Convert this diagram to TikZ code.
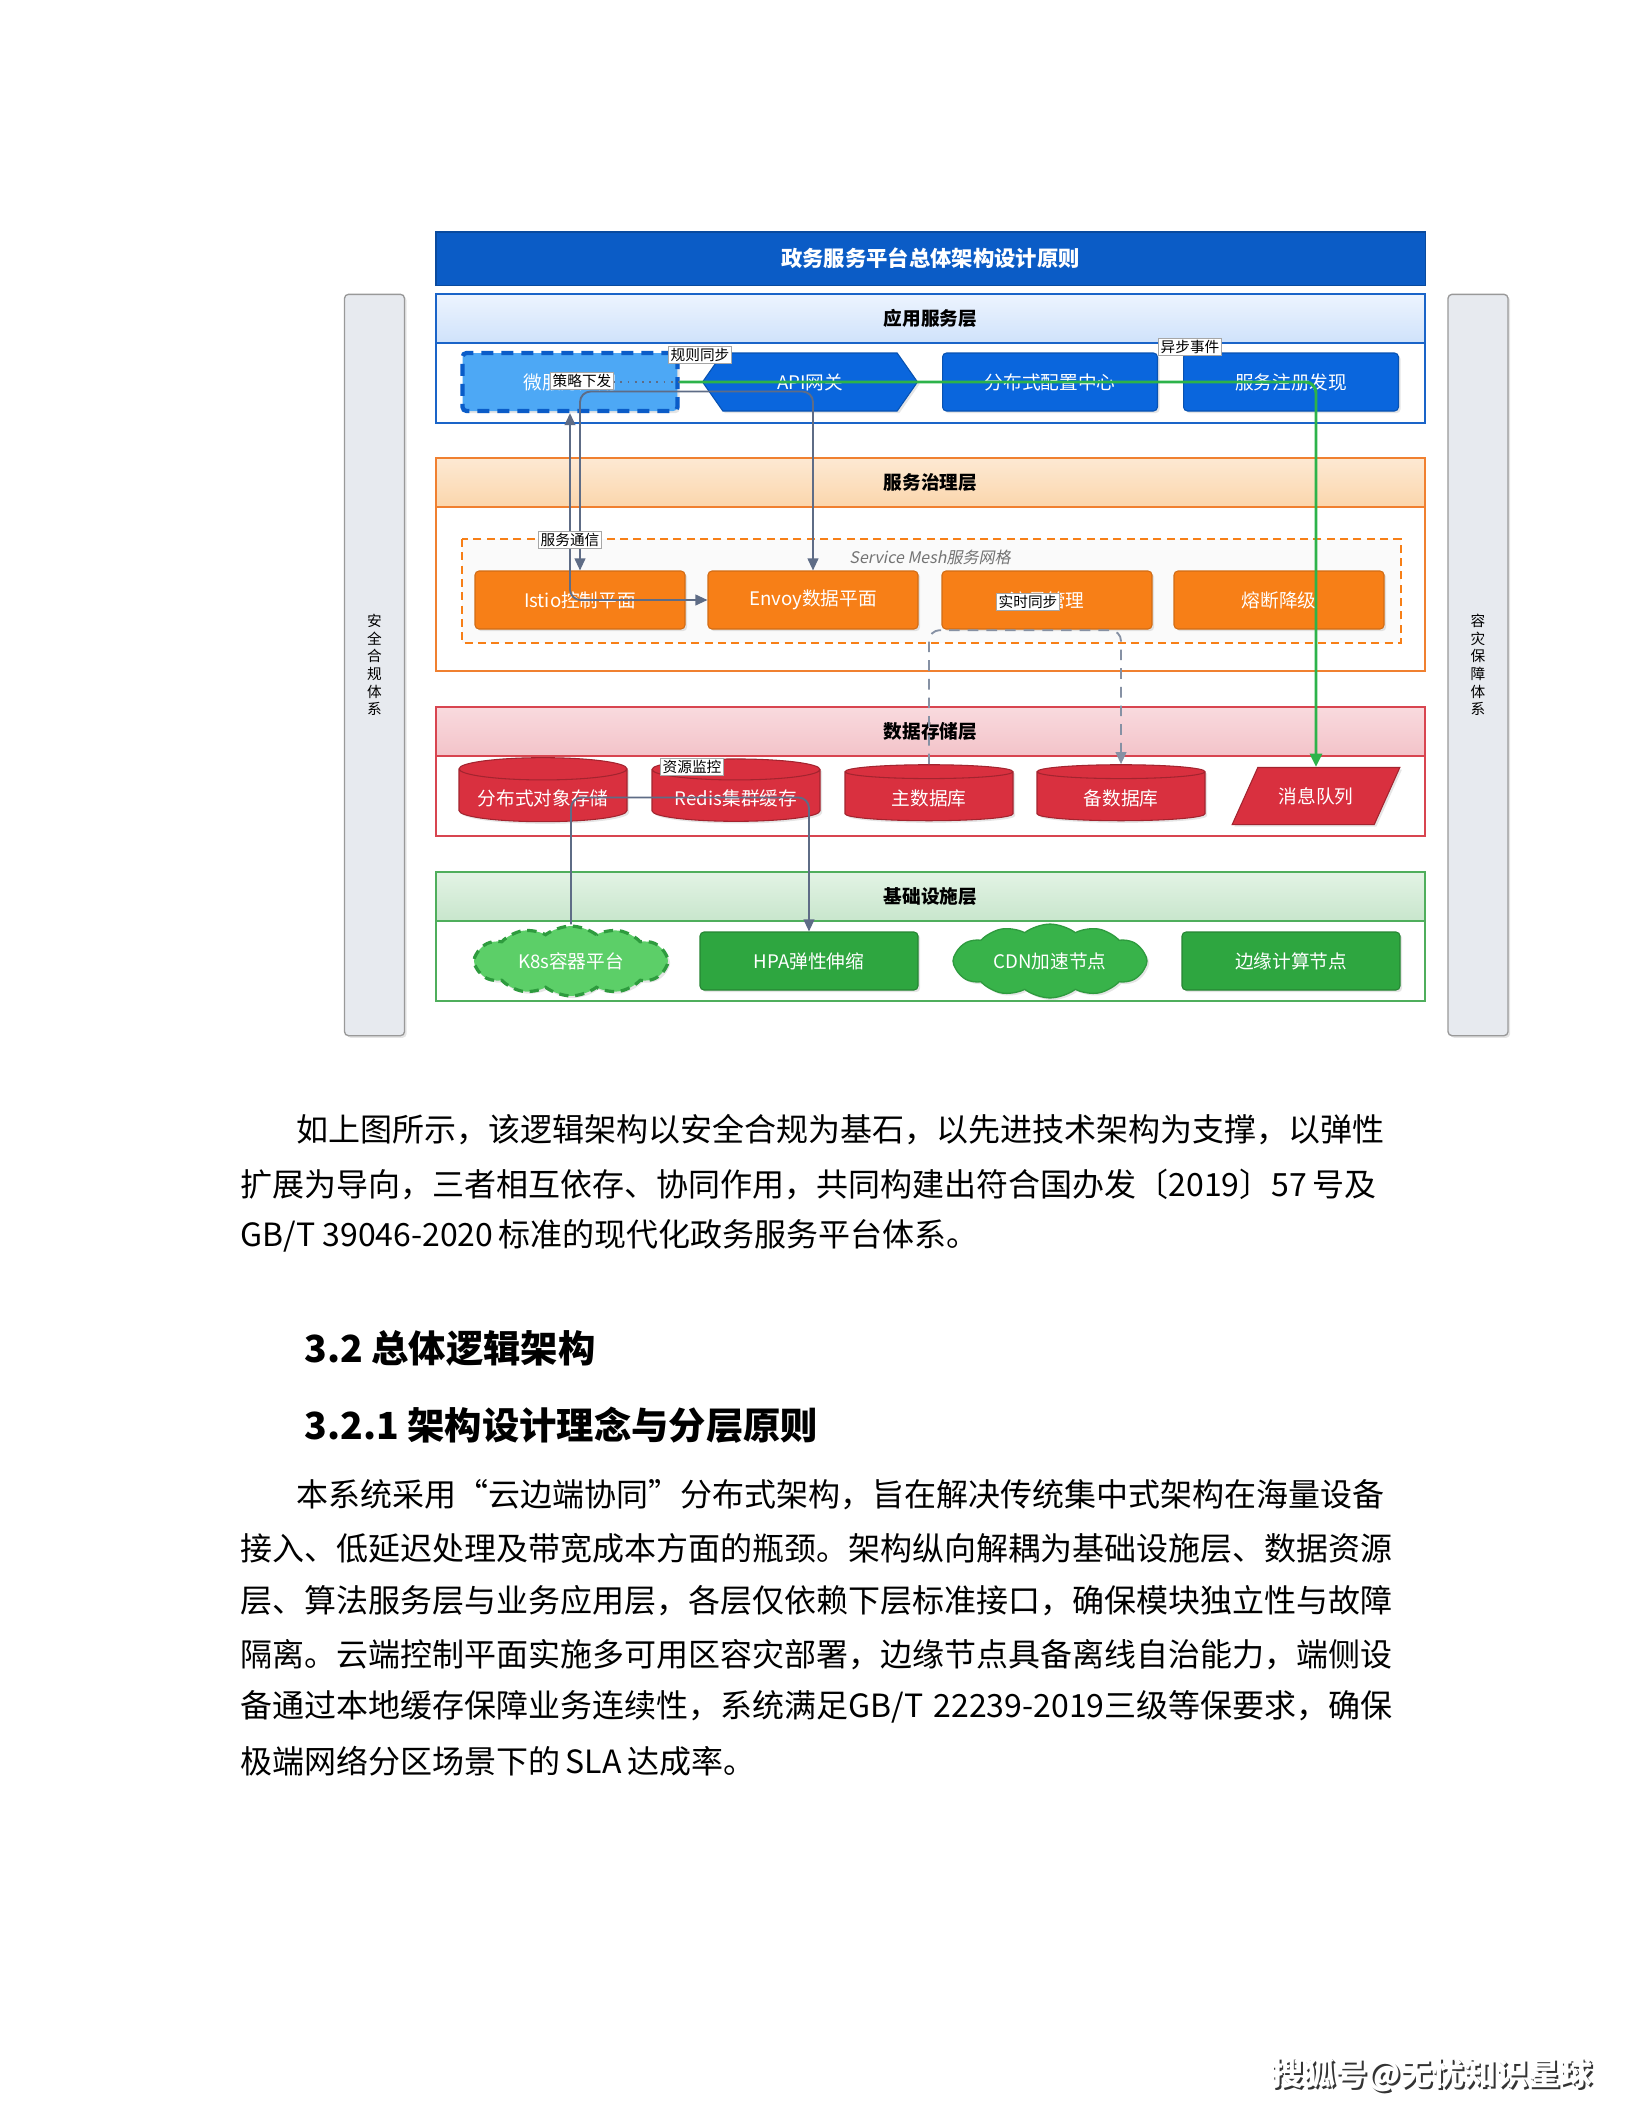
\documentclass[tikz,border=0pt]{standalone}
\usepackage{fontspec}
\newfontfamily\cjk{Noto Sans CJK SC}
\newfontfamily\cjkit[FakeSlant=0.2]{Noto Sans CJK SC}
\usetikzlibrary{shapes.geometric,shapes.symbols,arrows.meta,shadows}
\XeTeXlinebreaklocale "zh"
\XeTeXlinebreakskip=0pt plus 1pt

\definecolor{titleblue}{HTML}{0B5CC6}
\definecolor{appblue}{HTML}{0A66DD}
\definecolor{lightblue}{HTML}{4DA8F5}
\definecolor{dashblue}{HTML}{0A5CC8}
\definecolor{govorange}{HTML}{F77F17}
\definecolor{datared}{HTML}{D9303F}
\definecolor{infragreen}{HTML}{2EA640}
\definecolor{cloudgreen}{HTML}{5CCF68}
\definecolor{clouddark}{HTML}{2E9B3E}
\definecolor{cdngreen}{HTML}{38B34A}
\definecolor{linkgray}{HTML}{5E6C86}
\definecolor{flowgreen}{HTML}{2DB34A}
\definecolor{sidegray}{HTML}{E7EAEF}
% layer frames and header bands
\definecolor{appline}{HTML}{1A64C8}
\definecolor{apptop}{HTML}{EDF4FE}
\definecolor{appbot}{HTML}{CFE2FB}
\definecolor{govline}{HTML}{F08030}
\definecolor{govtop}{HTML}{FDE9D3}
\definecolor{govbot}{HTML}{FBD6AC}
\definecolor{dataline}{HTML}{D84550}
\definecolor{datatop}{HTML}{F9DADE}
\definecolor{databot}{HTML}{F3C3C9}
\definecolor{infraline}{HTML}{4FAE5C}
\definecolor{infratop}{HTML}{E3F3E5}
\definecolor{infrabot}{HTML}{C8E6CC}

\newcommand\nodefont{\cjk\fontsize{7}{8}\selectfont}
\newcommand\smallfont{\cjk\fontsize{5.5}{6.6}\selectfont}
\newcommand\bodyfont{\cjk\fontsize{12}{14}\selectfont}

\tikzset{
  gtip/.tip={Triangle[width=4pt,length=4.5pt]},
  ftip/.tip={Triangle[width=4.5pt,length=5pt]},
  softshadow/.style={drop shadow={opacity=0.2,shadow xshift=0.8pt,shadow yshift=-0.8pt}},
}

\begin{document}
\begin{tikzpicture}[x=0.375pt,y=-0.375pt,
    box/.style={rectangle, rounded corners=1.5pt, line width=0.4pt, text=white,
      font=\nodefont, minimum height=21.75pt, softshadow},
    appbox/.style={box, fill=appblue, draw=appblue!80!black, minimum width=80.6pt},
    govbox/.style={box, fill=govorange, draw=govorange!85!black, minimum width=78.75pt},
    infrabox/.style={box, fill=infragreen, draw=infragreen!80!black, minimum width=81.75pt},
    dbbox/.style={cylinder, shape border rotate=90, aspect=0.15, fill=datared,
      draw=datared!75!black, line width=0.4pt, text=white, font=\nodefont,
      minimum width=63pt, minimum height=21pt, softshadow},
    cloudbox/.style={cloud, cloud puffs=12, cloud puff arc=75, aspect=3.1,
      text=white, font=\nodefont, minimum width=72.75pt, minimum height=22pt, softshadow},
    layerhead/.style={font=\cjk\bfseries\fontsize{7}{8}\selectfont},
    sidebar/.style={rectangle, rounded corners=1.5pt, fill=sidegray, draw=gray!80,
      line width=0.5pt, minimum width=22.5pt, minimum height=278pt,
      font=\smallfont, align=center, softshadow},
    elabel/.style={fill=white, draw=gray!70, line width=0.3pt, font=\smallfont, inner sep=0.7pt},
    link/.style={draw=linkgray, line width=0.7pt, rounded corners=4pt},
    flow/.style={draw=flowgreen, line width=1.1pt, rounded corners=4pt},
    bodytext/.style={anchor=west, inner sep=0pt, font=\bodyfont},
    headtext/.style={anchor=west, inner sep=0pt, font=\cjk\bfseries\fontsize{14}{16}\selectfont},
  ]
  \useasboundingbox[fill=white] (0,0) rectangle (1632,2112);

  % title bar
  \node[fill=titleblue, draw=titleblue!80!black, minimum width=370.9pt, minimum height=19.9pt,
    text=white, font=\cjk\bfseries\fontsize{8}{9}\selectfont] (title) at (930.5,258.5)
    {政务服务平台总体架构设计原则};

  % side bars
  \node[sidebar] (safebar) at (374.5,665) {安\\全\\合\\规\\体\\系};
  \node[sidebar] (drbar) at (1478,665) {容\\灾\\保\\障\\体\\系};

  % layer frames
  \draw[draw=appline, line width=0.6pt] (436,294) rectangle (1425,423);
  \draw[draw=appline, line width=0.6pt, top color=apptop, bottom color=appbot]
    (436,294) rectangle (1425,343);
  \node[layerhead] (apphead) at (930.5,318.5) {应用服务层};

  \draw[draw=govline, line width=0.6pt] (436,458) rectangle (1425,671);
  \draw[draw=govline, line width=0.6pt, top color=govtop, bottom color=govbot]
    (436,458) rectangle (1425,507);
  \node[layerhead] (govhead) at (930.5,482.5) {服务治理层};

  \draw[draw=dataline, line width=0.6pt] (436,707) rectangle (1425,836);
  \draw[draw=dataline, line width=0.6pt, top color=datatop, bottom color=databot]
    (436,707) rectangle (1425,756);
  \node[layerhead] (datahead) at (930.5,731.5) {数据存储层};

  \draw[draw=infraline, line width=0.6pt] (436,872) rectangle (1425,1001);
  \draw[draw=infraline, line width=0.6pt, top color=infratop, bottom color=infrabot]
    (436,872) rectangle (1425,921);
  \node[layerhead] (infrahead) at (930.5,896.5) {基础设施层};

  % service mesh
  \draw[draw=govorange, fill=gray!4, line width=0.6pt, dash pattern=on 3pt off 2pt]
    (462,539) rectangle (1401,643);
  \node[font=\cjkit\fontsize{6}{7}\selectfont, text=gray!90!black] (meshlbl) at (930,557)
    {Service Mesh服务网格};

  % application layer
  \node[appbox, fill=lightblue, draw=dashblue, line width=1.6pt,
    dash pattern=on 4.5pt off 3pt] (wfw) at (570,382) {微服务应用};
  \node[appbox, signal, signal to=east and west, signal pointer angle=110,
    rounded corners=0pt] (gw) at (810,382) {API网关};
  \node[appbox] (cfg) at (1050,382) {分布式配置中心};
  \node[appbox] (reg) at (1291,382) {服务注册发现};

  % governance layer
  \node[govbox] (istio) at (580,600) {Istio控制平面};
  \node[govbox] (envoy) at (813,600) {Envoy数据平面};
  \node[govbox] (flowctl) at (1047,600) {流量管理};
  \node[govbox] (fuse) at (1279,600) {熔断降级};

  % data layer
  \node[dbbox] (oss) at (543,798) {分布式对象存储};
  \node[dbbox] (redis) at (736,798) {Redis集群缓存};
  \node[dbbox] (mdb) at (929,798) {主数据库};
  \node[dbbox] (bdb) at (1121,798) {备数据库};
  \node[trapezium, trapezium left angle=60, trapezium right angle=120, trapezium stretches=true,
    fill=datared, draw=datared!75!black, line width=0.4pt, text=white, font=\nodefont,
    minimum width=63pt, minimum height=21.4pt, softshadow] (mq) at (1316,796) {消息队列};

  % infrastructure layer
  \node[cloudbox, fill=cloudgreen, draw=clouddark, line width=1.2pt,
    dash pattern=on 3.5pt off 2.5pt] (k8s) at (571,961) {K8s容器平台};
  \node[infrabox] (hpa) at (809,961) {HPA弹性伸缩};
  \node[cloudbox, fill=cdngreen, draw=clouddark, line width=0.5pt] (cdn) at (1050,961) {CDN加速节点};
  \node[infrabox] (edge) at (1291,961) {边缘计算节点};

  % connectors
  \draw[link, dotted, line width=0.9pt] (wfw.center) -- (reg.center);
  \draw[link, gtip-gtip] (wfw.south) |- (envoy.west);
  \draw[link, gtip-gtip] (istio.north) -- ++(0,-179) -| (envoy.north);
  \draw[link, draw=linkgray!75, dash pattern=on 4pt off 3pt, -gtip] (mdb.north) -- ++(0,-134) -| (bdb.north);
  \draw[link, -gtip] (k8s.north) -- ++(0,-127) -| (hpa.north);
  \draw[flow, -ftip] (wfw.east) -| (mq.north);

  % connector labels
  \node[elabel] (rulelbl) at (700,355) {规则同步};
  \node[elabel] (policylbl) at (582,381) {策略下发};
  \node[elabel] (eventlbl) at (1190,347) {异步事件};
  \node[elabel] (commlbl) at (570,540) {服务通信};
  \node[elabel] (synclbl) at (1028,602) {实时同步};
  \node[elabel] (monlbl) at (692,767) {资源监控};

  % page text
  \node[bodytext] (p1a) at (296,1130)
    {\makebox[410pt][s]{如上图所示，该逻辑架构以安全合规为基石，以先进技术架构为支撑，以弹性}};
  \node[bodytext] (p1b) at (240,1184)
    {\makebox[432pt][s]{扩展为导向，三者相互依存、协同作用，共同构建出符合国办发〔2019〕57\,号及}};
  \node[bodytext] (p1c) at (240,1236) {GB/T 39046-2020\,标准的现代化政务服务平台体系。};

  \node[headtext] (sec) at (304,1348) {3.2 总体逻辑架构};
  \node[headtext] (subsec) at (304,1425) {3.2.1 架构设计理念与分层原则};

  \node[bodytext] (p2a) at (296,1495)
    {\makebox[410pt][s]{本系统采用“云边端协同”分布式架构，旨在解决传统集中式架构在海量设备}};
  \node[bodytext] (p2b) at (240,1548)
    {\makebox[432pt][s]{接入、低延迟处理及带宽成本方面的瓶颈。架构纵向解耦为基础设施层、数据资源}};
  \node[bodytext] (p2c) at (240,1601)
    {\makebox[432pt][s]{层、算法服务层与业务应用层，各层仅依赖下层标准接口，确保模块独立性与故障}};
  \node[bodytext] (p2d) at (240,1655)
    {\makebox[432pt][s]{隔离。云端控制平面实施多可用区容灾部署，边缘节点具备离线自治能力，端侧设}};
  \node[bodytext] (p2e) at (240,1707)
    {\makebox[432pt][s]{备通过本地缓存保障业务连续性，系统满足GB/T 22239-2019三级等保要求，确保}};
  \node[bodytext] (p2f) at (240,1761) {极端网络分区场景下的\,SLA\,达成率。};

  % watermark
  \node[font=\cjk\bfseries\fontsize{12}{14}\selectfont, text=black!80] (wmshadow) at (1434,2077)
    {搜狐号@无忧知识星球};
  \node[font=\cjk\bfseries\fontsize{12}{14}\selectfont, text=white] (wm) at (1432,2075)
    {搜狐号@无忧知识星球};
\end{tikzpicture}
\end{document}
